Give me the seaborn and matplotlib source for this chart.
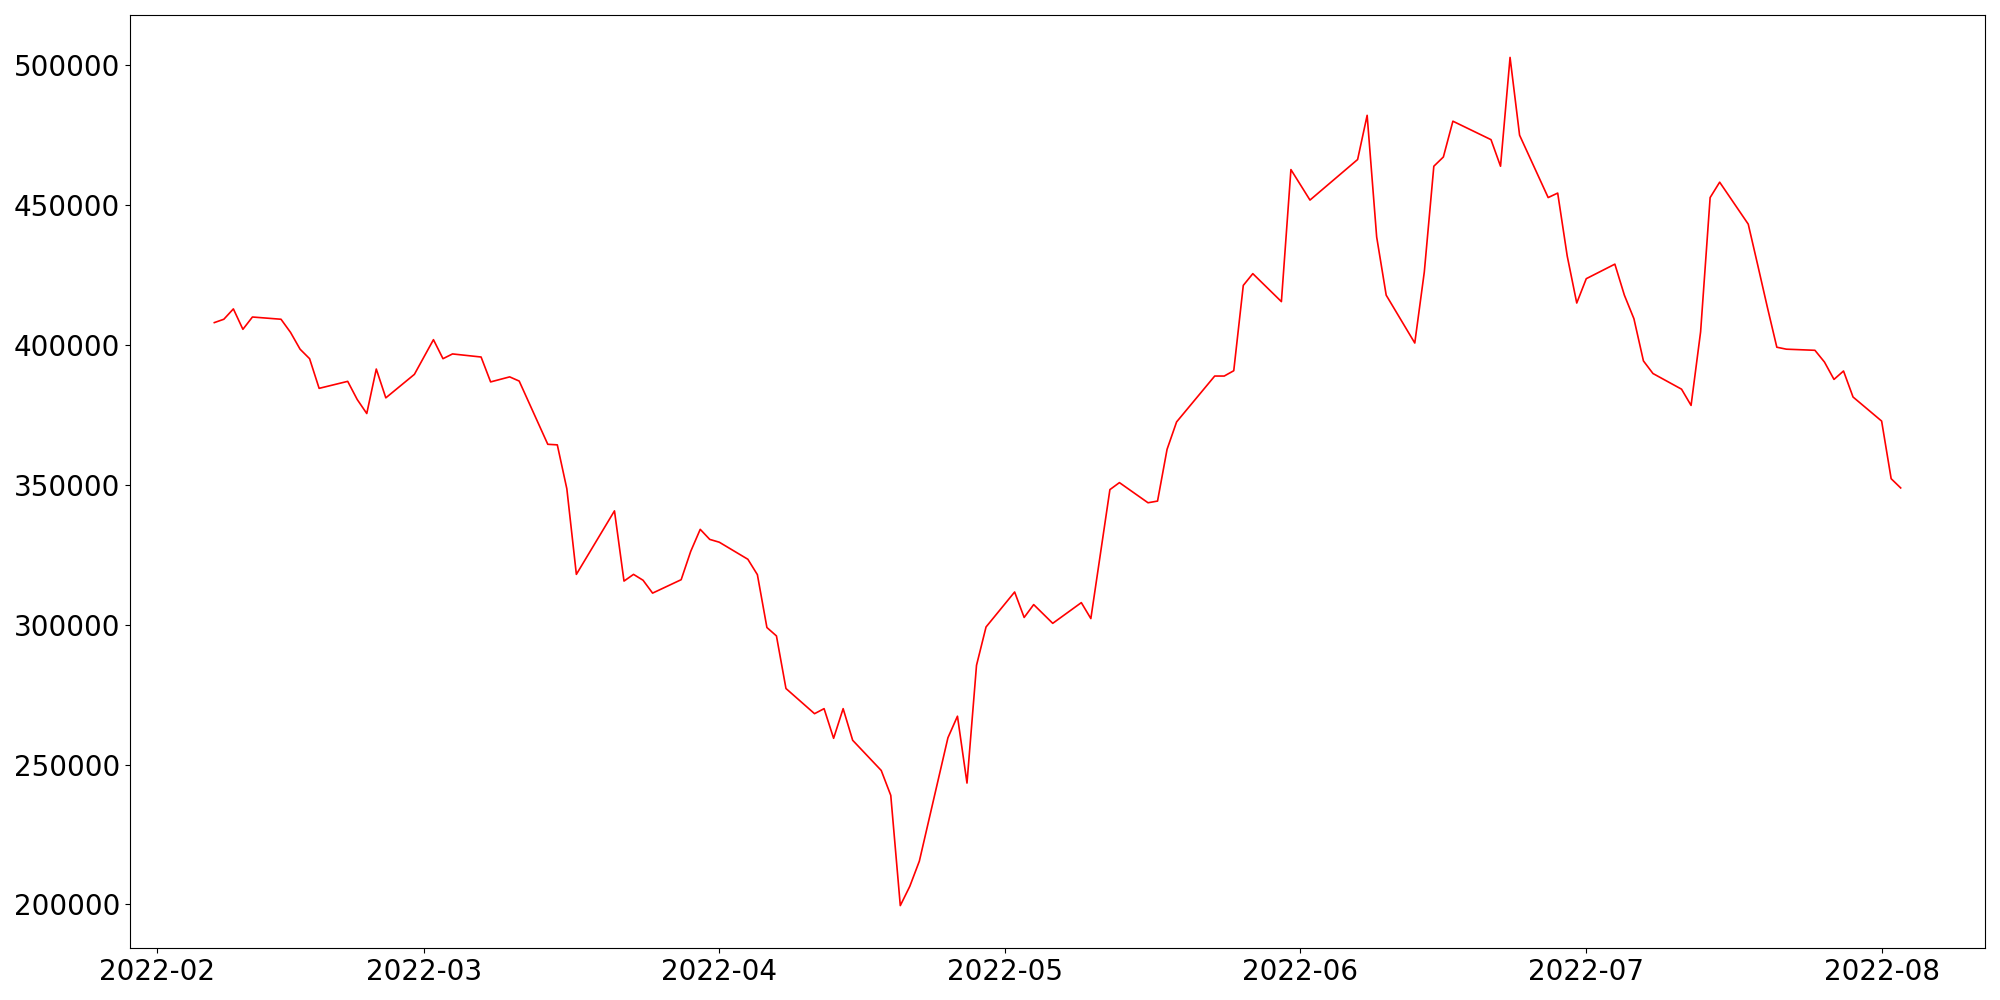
import pandas as pd
import numpy as np
import seaborn as sns
import matplotlib.pyplot as plt

# daily closing values (trading days only)
dates = [
    "2022-02-07", "2022-02-08", "2022-02-09", "2022-02-10", "2022-02-11",
    "2022-02-14", "2022-02-15", "2022-02-16", "2022-02-17", "2022-02-18",
    "2022-02-21", "2022-02-22", "2022-02-23", "2022-02-24", "2022-02-25",
    "2022-02-28", "2022-03-02", "2022-03-03", "2022-03-04",
    "2022-03-07", "2022-03-08", "2022-03-10", "2022-03-11",
    "2022-03-14", "2022-03-15", "2022-03-16", "2022-03-17",
    "2022-03-21", "2022-03-22", "2022-03-23", "2022-03-24", "2022-03-25",
    "2022-03-28", "2022-03-29", "2022-03-30", "2022-03-31", "2022-04-01",
    "2022-04-04", "2022-04-05", "2022-04-06", "2022-04-07", "2022-04-08",
    "2022-04-11", "2022-04-12", "2022-04-13", "2022-04-14", "2022-04-15",
    "2022-04-18", "2022-04-19", "2022-04-20", "2022-04-21", "2022-04-22",
    "2022-04-25", "2022-04-26", "2022-04-27", "2022-04-28", "2022-04-29",
    "2022-05-02", "2022-05-03", "2022-05-04", "2022-05-06",
    "2022-05-09", "2022-05-10", "2022-05-12", "2022-05-13",
    "2022-05-16", "2022-05-17", "2022-05-18", "2022-05-19",
    "2022-05-23", "2022-05-24", "2022-05-25", "2022-05-26", "2022-05-27",
    "2022-05-30", "2022-05-31", "2022-06-02",
    "2022-06-07", "2022-06-08", "2022-06-09", "2022-06-10",
    "2022-06-13", "2022-06-14", "2022-06-15", "2022-06-16", "2022-06-17",
    "2022-06-21", "2022-06-22", "2022-06-23", "2022-06-24",
    "2022-06-27", "2022-06-28", "2022-06-29", "2022-06-30", "2022-07-01",
    "2022-07-04", "2022-07-05", "2022-07-06", "2022-07-07", "2022-07-08",
    "2022-07-11", "2022-07-12", "2022-07-13", "2022-07-14", "2022-07-15",
    "2022-07-18", "2022-07-19", "2022-07-20", "2022-07-21", "2022-07-22",
    "2022-07-25", "2022-07-26", "2022-07-27", "2022-07-28", "2022-07-29",
    "2022-08-01", "2022-08-02", "2022-08-03",
]
values = [
    408000, 409200, 412900, 405600, 410000,
    409200, 404500, 398500, 395100, 384500,
    387000, 380500, 375500, 391400, 381100,
    389500, 401900, 395100, 396800,
    395700, 386800, 388600, 387100,
    364500, 364300, 348600, 318000,
    340700, 315600, 318000, 315900, 311300,
    316100, 326200, 334100, 330500, 329500,
    323400, 317900, 299000, 296000, 277200,
    268200, 270000, 259400, 270000, 258700,
    247900, 239000, 199600, 206500, 215500,
    259600, 267300, 243400, 285500, 299200,
    311700, 302600, 307200, 300500,
    307900, 302200, 348300, 350800,
    343600, 344200, 362700, 372500,
    388900, 388900, 390800, 421300, 425500,
    415500, 462700, 451800,
    466300, 482100, 438600, 417800,
    400700, 426100, 463900, 467200, 480000,
    473400, 463900, 502800, 475000,
    452700, 454300, 431800, 415000, 423700,
    428900, 417800, 409400, 394300, 389800,
    384200, 378400, 404700, 452700, 458200,
    443200, 428500, 413600, 399200, 398500,
    398100, 393900, 387700, 390700, 381400,
    372800, 352200, 348900,
]

df = pd.DataFrame({"date": pd.to_datetime(dates), "value": values})

fig, ax = plt.subplots(figsize=(20, 10), dpi=100)
sns.lineplot(data=df, x="date", y="value", color="red", linewidth=1.2, ax=ax)
ax.set_xlabel("")
ax.set_ylabel("")
ax.tick_params(labelsize=20)
plt.subplots_adjust(left=0.065, right=0.9925, bottom=0.052, top=0.985)
plt.savefig("out.png")
